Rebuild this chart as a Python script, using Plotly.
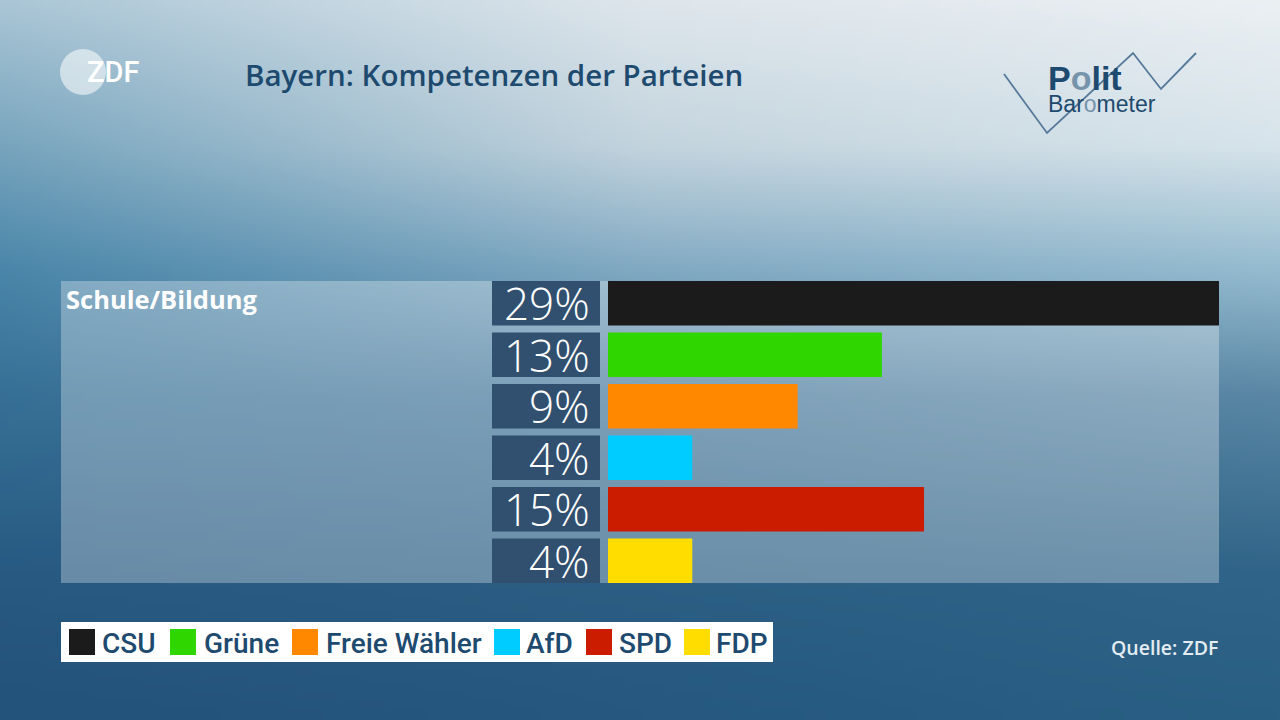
import base64, struct, zlib
import numpy as np
import plotly.graph_objects as go

# ---------------- data ----------------
title = "Bayern: Kompetenzen der Parteien"
topic = "Schule/Bildung"
source = "Quelle: ZDF"
parties = ["CSU", "Grüne", "Freie Wähler", "AfD", "SPD", "FDP"]
values = [29, 13, 9, 4, 15, 4]
colors = ["#1b1b1b", "#2fd600", "#ff8800", "#00ccff", "#cc1c00", "#ffdd00"]

W, H = 1280, 720
def px(x): return x / W
def py(y): return 1 - y / H

# ---------------- background gradient image ----------------
gy = [0, 0.2, 0.37, 0.55, 0.8, 1.0]
gx = [0, 0.5, 1.0]
grid = np.array([
    [(170, 198, 214), (222, 230, 236), (235, 240, 243)],
    [(120, 165, 190), (195, 212, 222), (215, 228, 235)],
    [(75, 135, 170), (130, 170, 195), (150, 188, 208)],
    [(55, 112, 150), (70, 120, 155), (90, 135, 165)],
    [(40, 90, 130), (45, 95, 133), (48, 100, 136)],
    [(35, 82, 122), (38, 88, 128), (42, 95, 132)],
], dtype=float)
iw, ih = 160, 90
xs = np.linspace(0, 1, iw)
ys = np.linspace(0, 1, ih)
tmp = np.zeros((len(gy), iw, 3))
for r in range(len(gy)):
    for c in range(3):
        tmp[r, :, c] = np.interp(xs, gx, grid[r, :, c])
img = np.zeros((ih, iw, 3))
for i in range(iw):
    for c in range(3):
        img[:, i, c] = np.interp(ys, gy, tmp[:, i, c])
img = np.clip(img, 0, 255).astype(np.uint8)

def png_bytes(a):
    h, w, _ = a.shape
    raw = b"".join(b"\x00" + a[r].tobytes() for r in range(h))
    def chunk(t, d):
        return struct.pack(">I", len(d)) + t + d + struct.pack(">I", zlib.crc32(t + d) & 0xffffffff)
    return (b"\x89PNG\r\n\x1a\n" + chunk(b"IHDR", struct.pack(">IIBBBBB", w, h, 8, 2, 0, 0, 0))
            + chunk(b"IDAT", zlib.compress(raw, 9)) + chunk(b"IEND", b""))

bg_src = "data:image/png;base64," + base64.b64encode(png_bytes(img)).decode()

# ---------------- figure ----------------
BAR_W = 0.862
BOX = "#314f6e"
DARK = "#1d4a6e"

fig = go.Figure()
fig.add_trace(go.Bar(
    x=[1] * len(parties), y=parties, orientation="h", xaxis="x2", yaxis="y",
    marker=dict(color=BOX, line=dict(width=0)), width=BAR_W,
    hoverinfo="skip", showlegend=False))
fig.add_trace(go.Bar(
    x=values, y=parties, orientation="h", xaxis="x", yaxis="y",
    marker=dict(color=colors, line=dict(width=0)), width=BAR_W,
    hovertemplate="%{y}: %{x}%<extra></extra>", showlegend=False))

annotations = []
for p, v in zip(parties, values):
    annotations.append(dict(
        text=f"{v}%", xref="paper", x=px(592), xanchor="right",
        yref="y", y=p, yanchor="middle", showarrow=False,
        font=dict(family="Open Sans", size=44, color="white", weight=300)))

annotations += [
    dict(text=title, xref="paper", yref="paper", x=px(243), y=py(75),
         xanchor="left", yanchor="middle", showarrow=False,
         font=dict(family="Open Sans", size=29.5, color=DARK, weight=600)),
    dict(text=topic, xref="paper", yref="paper", x=px(64), y=py(299),
         xanchor="left", yanchor="middle", showarrow=False,
         font=dict(family="Open Sans", size=25.5, color="white", weight=700)),
    dict(text=source, xref="paper", yref="paper", x=px(1220), y=py(647),
         xanchor="right", yanchor="middle", showarrow=False,
         font=dict(family="Open Sans", size=19.5, color="#e4ecf2", weight=600)),
    dict(text="ZDF", xref="paper", yref="paper", x=px(85), y=py(72),
         xanchor="left", yanchor="middle", showarrow=False,
         font=dict(family="Roboto", size=29, color="white", weight=500)),
    dict(text="P<span style='color:#7593ab'>o</span>lit", xref="paper", yref="paper",
         x=px(1046), y=py(78), xanchor="left", yanchor="middle", showarrow=False,
         font=dict(family="Liberation Sans", size=34, color=DARK, weight=700)),
    dict(text="Bar<span style='color:#7593ab'>o</span>meter", xref="paper", yref="paper",
         x=px(1046), y=py(104), xanchor="left", yanchor="middle", showarrow=False,
         font=dict(family="Liberation Sans", size=23, color=DARK, weight=400)),
]

shapes = [
    # translucent panel
    dict(type="rect", xref="paper", yref="y domain", x0=px(61), x1=px(1219), y0=0, y1=1,
         fillcolor="rgba(255,255,255,0.3)", line=dict(width=0), layer="below"),
    # ZDF circle
    dict(type="circle", xref="paper", yref="paper", x0=px(60), x1=px(106), y0=py(95), y1=py(49),
         fillcolor="rgba(255,255,255,0.55)", line=dict(width=0), layer="below"),
    # legend box
    dict(type="rect", xref="paper", yref="paper", x0=px(61), x1=px(773), y0=py(662), y1=py(622),
         fillcolor="white", line=dict(width=0)),
]
# Politbarometer zigzag
zz = [(1004, 74), (1047, 133), (1133, 53), (1161, 89), (1196, 53)]
path = "M " + " L ".join(f"{px(a):.5f},{py(b):.5f}" for a, b in zz)
shapes.append(dict(type="path", xref="paper", yref="paper", path=path,
                   line=dict(color="#56799a", width=1.8), layer="below"))

# manual legend
sq_x = [69, 170, 292, 494, 586, 684]
tx_x = [100, 202, 324, 524, 617, 714]
for p, c, sx, tx in zip(parties, colors, sq_x, tx_x):
    shapes.append(dict(type="rect", xref="paper", yref="paper", x0=px(sx), x1=px(sx + 26),
                       y0=py(655), y1=py(629), fillcolor=c, line=dict(width=0)))
    annotations.append(dict(text=p, xref="paper", yref="paper", x=px(tx), y=py(643),
                            xanchor="left", yanchor="middle", showarrow=False,
                            font=dict(family="Roboto", size=28, color=DARK, weight=500)))

fig.update_layout(
    width=W, height=H, margin=dict(l=0, r=0, t=0, b=0),
    paper_bgcolor="#2a5e86", plot_bgcolor="rgba(0,0,0,0)",
    barmode="overlay", showlegend=False,
    xaxis=dict(domain=[px(608), px(1219)], range=[0, 29], visible=False, fixedrange=True),
    xaxis2=dict(domain=[px(492), px(600)], range=[0, 1], visible=False, anchor="y", fixedrange=True),
    yaxis=dict(domain=[py(583), py(281)], type="category", categoryorder="array",
               categoryarray=parties, range=[len(parties) - 1 + BAR_W / 2, -BAR_W / 2],
               visible=False, fixedrange=True),
    images=[dict(source=bg_src, xref="paper", yref="paper", x=0, y=1, sizex=1, sizey=1,
                 sizing="stretch", xanchor="left", yanchor="top", layer="below")],
    shapes=shapes, annotations=annotations,
)

fig.write_html("out.html", config={"displayModeBar": False},
               post_script="document.body.style.margin='0';document.body.style.overflow='hidden';")
